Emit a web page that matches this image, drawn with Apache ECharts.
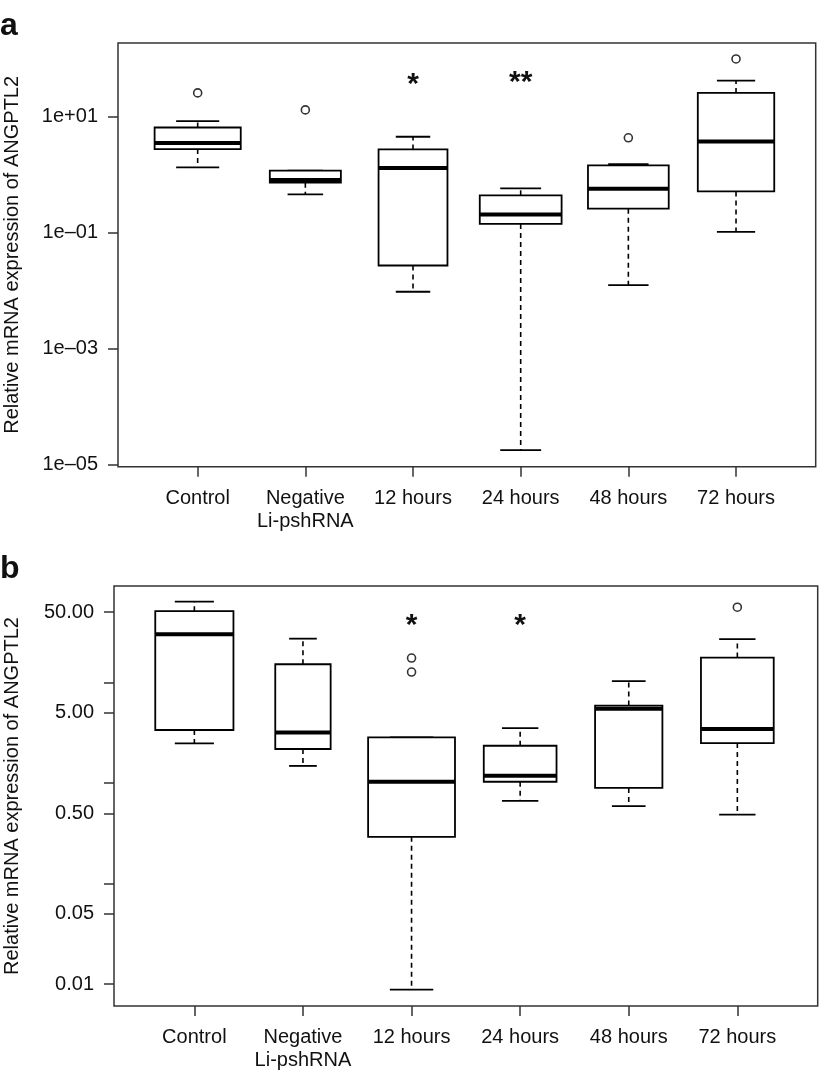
<!DOCTYPE html>
<html>
<head>
<meta charset="utf-8">
<script src="https://cdn.jsdelivr.net/npm/echarts@6/dist/echarts.min.js"></script>
<style>
  html, body { margin: 0; padding: 0; background: #fff; }
  #chart { width: 822px; height: 1074px; }
</style>
</head>
<body>
<div id="chart"></div>
<script>
// ---------- DATA ----------
const categories = ['Control', 'Negative\nLi-pshRNA', '12 hours', '24 hours', '48 hours', '72 hours'];

// Panel a: [lower whisker, Q1, median, Q3, upper whisker]
const boxA = [
  [1.33, 2.75, 3.49, 6.47, 8.34],
  [0.457, 0.726, 0.807, 1.17, 1.17],
  [0.0096, 0.0272, 1.30, 2.71, 4.48],
  [1.8e-5, 0.1416, 0.205, 0.44, 0.579],
  [0.0125, 0.259, 0.573, 1.44, 1.52],
  [0.103, 0.514, 3.72, 25.5, 41.6]
];
// outliers: [group index (1-based), value]
const outliersA = [[1, 25.5], [2, 13.0], [5, 4.3], [6, 98]];
const signifA = ['', '', '*', '**', '', ''];
const yTicksA = [1e-5, 1e-3, 1e-1, 1e1];

// Panel b
const boxB = [
  [2.48, 3.37, 30.2, 51.2, 63.7],
  [1.48, 2.18, 3.18, 15.2, 27.3],
  [0.0088, 0.292, 1.03, 2.84, 2.84],
  [0.664, 1.03, 1.18, 2.35, 3.52],
  [0.59, 0.893, 5.48, 5.9, 10.3],
  [0.484, 2.5, 3.44, 17.7, 27.0]
];
const outliersB = [[3, 17.5], [3, 12.7], [6, 56.1]];
const signifB = ['', '', '*', '*', '', ''];
const yTicksB = [0.01, 0.05, 0.1, 0.5, 1, 5, 10, 50];
const yLabelsB = [0.01, 0.05, 0.5, 5, 50];

// ---------- STYLE / LAYOUT ----------
const boxWidthsA = [0.80, 0.66, 0.64, 0.76, 0.75, 0.71];
const boxWidthsB = [0.72, 0.51, 0.80, 0.67, 0.62, 0.67];
const starLogA = [1.55, 1.59];
const starLogB = 1.565;
const FONT = '"Liberation Sans", Arial, Helvetica, sans-serif';
const INK = '#111';
const FRAME = '#333';

const L = Math.log10;

function boxSeriesData(box) {
  return box.map((b, i) => [i + 1, L(b[0]), L(b[1]), L(b[2]), L(b[3]), L(b[4])]);
}

function makeRenderBox(widths) {
  return function (params, api) {
    const x = api.value(0);
    const w = widths[params.dataIndex];
    const lw = api.value(1), q1 = api.value(2), md = api.value(3), q3 = api.value(4), uw = api.value(5);
    const P = (xx, yy) => api.coord([xx, yy]);
    const tl = P(x - w / 2, q3), br = P(x + w / 2, q1);
    const c = P(x, md)[0];
    const yLw = P(x, lw)[1], yQ1 = P(x, q1)[1], yMd = P(x, md)[1], yQ3 = P(x, q3)[1], yUw = P(x, uw)[1];
    const capL = P(x - w / 4, md)[0], capR = P(x + w / 4, md)[0];
    const solid = { stroke: '#000', lineWidth: 1.8, fill: null };
    const dashed = { stroke: '#000', lineWidth: 1.6, lineDash: [5, 4], fill: null };
    const children = [];
    if (yLw - yQ1 > 0.5) children.push({ type: 'line', shape: { x1: c, y1: yQ1, x2: c, y2: yLw }, style: dashed });
    if (yQ3 - yUw > 0.5) children.push({ type: 'line', shape: { x1: c, y1: yQ3, x2: c, y2: yUw }, style: dashed });
    children.push({ type: 'line', shape: { x1: capL, y1: yLw, x2: capR, y2: yLw }, style: solid });
    children.push({ type: 'line', shape: { x1: capL, y1: yUw, x2: capR, y2: yUw }, style: solid });
    children.push({ type: 'rect', shape: { x: tl[0], y: tl[1], width: br[0] - tl[0], height: br[1] - tl[1] },
      style: { stroke: '#000', lineWidth: 1.8, fill: '#fff' } });
    children.push({ type: 'line', shape: { x1: tl[0], y1: yMd, x2: br[0], y2: yMd }, style: { stroke: '#000', lineWidth: 4 } });
    return { type: 'group', children: children };
  };
}

function renderStar(params, api) {
  const p = api.coord([api.value(0), api.value(1)]);
  return { type: 'text', x: p[0], y: p[1],
    style: { text: api.value(2), fill: INK, font: 'bold 30px ' + FONT, align: 'center', verticalAlign: 'middle' } };
}

function starData(sig, yPos) {
  const out = [];
  sig.forEach((s, i) => {
    if (s) out.push([i + 1, Array.isArray(yPos) ? yPos[out.length] : yPos, s]);
  });
  return out;
}

const xIdx = [1, 2, 3, 4, 5, 6];
const labelStyle = { color: INK, fontSize: 20, fontFamily: FONT };

function xAxisCfg(gridIndex) {
  return {
    type: 'value', gridIndex: gridIndex, min: 0.26, max: 6.74,
    axisLine: { show: false, onZero: false }, splitLine: { show: false },
    axisTick: { show: true, customValues: xIdx, length: 10, lineStyle: { color: FRAME, width: 1.5 } },
    axisLabel: Object.assign({ customValues: xIdx, margin: 20, lineHeight: 23,
      formatter: v => categories[Math.round(v) - 1] }, labelStyle)
  };
}

const yTitle = 'Relative mRNA expression of ANGPTL2';
const gridCommon = { show: true, borderColor: FRAME, borderWidth: 1.5, backgroundColor: 'transparent',
  containLabel: false, outerBoundsMode: 'none' };

const option = {
  animation: false,
  backgroundColor: '#fff',
  title: [
    { text: 'a', left: 0, top: 10, padding: 0, textStyle: { fontSize: 32, fontWeight: 'bold', color: INK, fontFamily: FONT } },
    { text: 'b', left: 0, top: 553, padding: 0, textStyle: { fontSize: 32, fontWeight: 'bold', color: INK, fontFamily: FONT } }
  ],
  grid: [
    Object.assign({ left: 118, top: 43, width: 697.7, height: 423.7 }, gridCommon),
    Object.assign({ left: 114, top: 586, width: 703.7, height: 420 }, gridCommon)
  ],
  xAxis: [xAxisCfg(0), xAxisCfg(1)],
  yAxis: [
    {
      type: 'value', gridIndex: 0, min: -5.03, max: 2.266,
      axisLine: { show: false, onZero: false }, splitLine: { show: false },
      axisTick: { show: true, customValues: yTicksA.map(L), length: 10, lineStyle: { color: FRAME, width: 1.5 } },
      axisLabel: Object.assign({ customValues: yTicksA.map(L), margin: 20,
        formatter: v => { const e = Math.round(v); return '1e' + (e < 0 ? '\u2013' : '+') + String(Math.abs(e)).padStart(2, '0'); } }, labelStyle),
      name: yTitle, nameLocation: 'middle', nameRotate: 90, nameGap: 96,
      nameTextStyle: { fontSize: 20, color: INK, fontFamily: FONT }
    },
    {
      type: 'value', gridIndex: 1, min: -2.218, max: 1.96,
      axisLine: { show: false, onZero: false }, splitLine: { show: false },
      axisTick: { show: true, customValues: yTicksB.map(L), length: 10, lineStyle: { color: FRAME, width: 1.5 } },
      axisLabel: Object.assign({ customValues: yLabelsB.map(L), margin: 20,
        formatter: v => Math.pow(10, v).toFixed(2) }, labelStyle),
      name: yTitle, nameLocation: 'middle', nameRotate: 90, nameGap: 92,
      nameTextStyle: { fontSize: 20, color: INK, fontFamily: FONT }
    }
  ],
  series: [
    { type: 'custom', xAxisIndex: 0, yAxisIndex: 0, renderItem: makeRenderBox(boxWidthsA), data: boxSeriesData(boxA), clip: false },
    { type: 'scatter', xAxisIndex: 0, yAxisIndex: 0, symbol: 'circle', symbolSize: 8,
      itemStyle: { color: '#fff', borderColor: '#000', borderWidth: 1.6 }, data: outliersA.map(o => [o[0], L(o[1])]) },
    { type: 'custom', xAxisIndex: 0, yAxisIndex: 0, renderItem: renderStar, data: starData(signifA, starLogA) },
    { type: 'custom', xAxisIndex: 1, yAxisIndex: 1, renderItem: makeRenderBox(boxWidthsB), data: boxSeriesData(boxB), clip: false },
    { type: 'scatter', xAxisIndex: 1, yAxisIndex: 1, symbol: 'circle', symbolSize: 8,
      itemStyle: { color: '#fff', borderColor: '#000', borderWidth: 1.6 }, data: outliersB.map(o => [o[0], L(o[1])]) },
    { type: 'custom', xAxisIndex: 1, yAxisIndex: 1, renderItem: renderStar, data: starData(signifB, starLogB) }
  ]
};

const chart = echarts.init(document.getElementById('chart'), null, { renderer: 'canvas' });
chart.setOption(option);
</script>
</body>
</html>
